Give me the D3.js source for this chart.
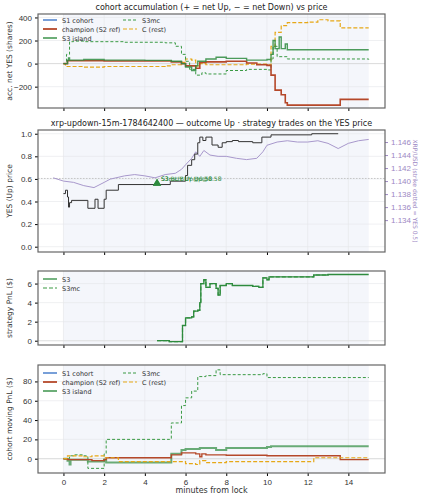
<!DOCTYPE html>
<html><head><meta charset="utf-8">
<script src="https://cdn.jsdelivr.net/npm/d3@7"></script>
<style>body{margin:0;background:#fff;font-family:'DejaVu Sans',sans-serif}</style>
</head><body><div id="chart"></div>
<script>
// panel 1: accumulated net YES shares [minute, shares]
const accS1 = []
const accChampion = [[0,0],[0.2,25],[2,22],[5.3,15],[5.8,0],[6,-20],[6.5,-40],[6.7,10],[7,15],[8,20],[9,5],[9.5,-10],[10,-15],[10.2,-100],[10.4,-230],[10.7,-270],[10.9,-340],[11,-360],[13.6,-360],[13.6,-310],[15,-310]]
const accS3 = [[0,0],[0.2,30],[0.25,50],[0.3,30],[1,35],[2,30],[4,28],[5.3,20],[5.8,0],[6,-30],[6.3,-60],[6.5,-20],[6.6,20],[7,40],[7.5,55],[8,45],[9,30],[10,35],[10.2,80],[10.3,200],[10.4,130],[10.6,230],[10.7,130],[10.9,170],[11,120],[15,120]]
const accS3mc = [[0,0],[0.15,80],[0.3,190],[0.5,195],[1,190],[3,185],[5,180],[5.5,150],[5.8,80],[6,20],[6.2,-50],[6.5,-100],[6.8,-80],[7,-90],[8,-60],[9,-50],[10,-55],[10.2,40],[10.3,150],[10.5,60],[11,40],[15,35]]
const accC = [[0,0],[0.1,-25],[1,-30],[2,-25],[5,-20],[5.3,-10],[5.8,10],[6,40],[6.3,30],[6.5,-20],[6.7,0],[7,-10],[8,-10],[9,-5],[10,-10],[10.2,150],[10.4,270],[10.7,330],[11,355],[12,360],[12.5,380],[13,370],[13.6,310],[15,310]]

// panel 2: YES price and XRP/USD
const yesPrice = [[0,0.47],[0.1,0.5],[0.2,0.44],[0.25,0.35],[0.3,0.39],[0.4,0.41],[1.2,0.34],[1.55,0.42],[1.7,0.34],[2.0,0.42],[2.1,0.5],[2.7,0.55],[5.25,0.58],[6.0,0.63],[6.1,0.72],[6.3,0.77],[6.45,0.82],[6.6,0.92],[6.7,0.97],[6.85,0.94],[7.0,0.97],[7.3,0.9],[7.6,0.88],[7.8,0.92],[8.0,0.93],[8.3,0.94],[8.6,0.93],[9.3,0.92],[9.75,0.97],[10.2,0.99],[12.2,1.0],[13.5,1.0]]
const xrpPrice = [[-0.5,1.1405],[0,1.14],[0.5,1.1398],[1,1.1393],[1.5,1.139],[2,1.1398],[2.3,1.1403],[3,1.1408],[3.5,1.141],[4,1.1408],[4.5,1.1405],[5,1.141],[5.5,1.1412],[5.8,1.1418],[6,1.1425],[6.3,1.1435],[6.5,1.1445],[6.7,1.1438],[6.9,1.1447],[7.2,1.144],[7.6,1.1438],[8,1.1438],[8.5,1.1435],[9,1.1433],[9.5,1.1435],[9.8,1.1445],[10,1.1455],[10.5,1.146],[11,1.1462],[11.5,1.146],[12,1.146],[12.5,1.1462],[13,1.1458],[13.5,1.145],[14,1.1458],[14.5,1.1462],[15,1.1464]]
const strike = 1.1404
const trades = [{x:4.6, y:0.56, label:'S3:BUY Up@0.58'}, {x:4.6, y:0.56, label:'S3mc:BUY Up@0.58'}]

// panel 3: strategy PnL
const pnlS3 = [[4.6,0],[5.2,-0.1],[5.85,1.6],[6.0,2.4],[6.3,2.5],[6.4,3.1],[6.6,3.2],[6.7,4.0],[6.75,6.0],[6.9,6.4],[7.0,5.6],[7.2,6.0],[7.5,5.5],[7.6,4.8],[7.7,5.8],[8,6.0],[8.3,5.8],[9,5.8],[9.3,5.7],[9.6,5.6],[9.8,6.6],[10,6.4],[10.1,6.7],[12.3,6.9],[13,6.95],[15,6.95]]
const pnlS3mc = pnlS3

// panel 4: cohort moving PnL
const movS1 = []
const movChampion = [[0,0],[0.2,-1],[1.2,-1],[1.4,-2],[2,-1],[2.1,1],[5.3,4],[5.8,6],[6.5,5],[6.7,2],[6.8,5],[7,4],[8,3.5],[10,3],[13.6,3],[13.6,-1],[15,-1]]
const movS3 = [[0,0],[0.2,-2],[0.3,-6],[0.35,-1],[1,-1],[1.2,-3],[2,-1],[2.1,-4],[5.3,5],[5.8,9],[6,10],[6.7,11],[7,11],[7.5,9],[8,11],[9,11],[10,12],[10.2,13],[15,13]]
const movS3mc = [[0,0],[0.3,3],[0.5,4],[1,3],[1.2,-10],[2,5],[2.1,20],[5.2,20],[5.3,37],[5.8,55],[6,63],[6.3,70],[6.6,85],[7,86],[7.5,92],[7.7,87],[9.8,88],[10,84],[15,84]]
const movC = [[0,0],[0.2,3],[1,2],[1.4,3],[2,1],[2.7,-3],[5.3,-3],[6,-5],[6.5,-6],[6.7,-2],[7,-4],[8,-3],[10,-3],[12.3,1],[15,1]]

const xTicks = [0,2,4,6,8,10,12,14]
const col = {s1:'#1f5fbf', champ:'#b5482a', s3:'#2e8b3e', s3mc:'#3a9a44', c:'#e6a817'}

const W = 423, H = 500
const left = 38, right = 385
const svg = d3.select('#chart').append('svg').attr('width', W).attr('height', H)
  .style('font-family', "'DejaVu Sans', sans-serif")

const xScale = d3.scaleLinear().domain([-1.25, 15.8]).range([left, right])

const line = (ys) => d3.line().curve(d3.curveStepAfter).x(d => xScale(d[0])).y(d => ys(d[1]))

// draw a panel frame with background, grid, axes
const panel = (top, bottom, domain, ticks, fmt, ylabel, showX) => {
  const ys = d3.scaleLinear().domain(domain).range([bottom, top])
  const g = svg.append('g')
  g.append('rect').attr('x', left).attr('y', top).attr('width', right - left).attr('height', bottom - top).attr('fill', '#fff')
  g.append('rect').attr('x', xScale(0)).attr('y', top).attr('width', xScale(15) - xScale(0)).attr('height', bottom - top).attr('fill', '#f4f6fb')
  xTicks.forEach(t => g.append('line').attr('x1', xScale(t)).attr('x2', xScale(t)).attr('y1', top).attr('y2', bottom).attr('stroke', '#e4e6ea').attr('stroke-width', 0.6))
  ticks.forEach(t => g.append('line').attr('x1', left).attr('x2', right).attr('y1', ys(t)).attr('y2', ys(t)).attr('stroke', '#e4e6ea').attr('stroke-width', 0.6))
  const ya = g.append('g').attr('transform', `translate(${left},0)`).call(d3.axisLeft(ys).tickValues(ticks).tickFormat(fmt).tickSize(3))
  ya.select('.domain').remove()
  ya.selectAll('text').attr('font-size', 8).attr('fill', '#333')
  const xa = g.append('g').attr('transform', `translate(0,${bottom})`).call(d3.axisBottom(xScale).tickValues(xTicks).tickSize(3).tickFormat(showX ? d3.format('d') : ''))
  xa.select('.domain').remove()
  xa.selectAll('text').attr('font-size', 8).attr('fill', '#333')
  g.append('text').attr('transform', `translate(${left - 26},${(top + bottom) / 2}) rotate(-90)`)
    .attr('text-anchor', 'middle').attr('font-size', 7.5).attr('fill', '#333').text(ylabel)
  return {ys, g, top, bottom}
}
const frame = (p) => svg.append('rect').attr('x', left).attr('y', p.top).attr('width', right - left).attr('height', p.bottom - p.top)
  .attr('fill', 'none').attr('stroke', '#666').attr('stroke-width', 1.2)
const title = (y, t) => svg.append('text').attr('x', (left + right) / 2).attr('y', y).attr('text-anchor', 'middle').attr('font-size', 8).attr('fill', '#222').text(t)

const drawSeries = (p, data, color, width, dash, opacity) => {
  if (!data.length) return
  p.g.append('path').datum(data).attr('d', line(p.ys)).attr('fill', 'none').attr('stroke', color)
    .attr('stroke-width', width).attr('stroke-dasharray', dash || null).attr('opacity', opacity || 1)
}
const legend = (p, items, x0, y0, colW) => {
  items.forEach((it, i) => {
    const x = x0 + Math.floor(i / 3) * colW, y = y0 + (i % 3) * 9
    p.g.append('line').attr('x1', x).attr('x2', x + 14).attr('y1', y).attr('y2', y).attr('stroke', it.c).attr('stroke-width', it.w).attr('stroke-dasharray', it.d || null)
    p.g.append('text').attr('x', x + 19).attr('y', y + 2.5).attr('font-size', 6.5).attr('fill', '#333').text(it.t)
  })
}
const cohortItems = [
  {t:'S1 cohort', c:col.s1, w:1.2}, {t:'champion (S2 ref)', c:col.champ, w:1.8}, {t:'S3 island', c:col.s3, w:1.4},
  {t:'S3mc', c:col.s3mc, w:1, d:'3,2'}, {t:'C (rest)', c:col.c, w:1.2, d:'4,2'}
]

// panel 1
title(10, 'cohort accumulation (+ = net Up, \u2212 = net Down) vs price')
const p1 = panel(14, 108, [-385, 430], [-200, 0, 200, 400], d3.format('d'), 'acc. net YES (shares)', false)
p1.g.append('line').attr('x1', left).attr('x2', right).attr('y1', p1.ys(0)).attr('y2', p1.ys(0)).attr('stroke', '#ccc').attr('stroke-width', 0.6)
drawSeries(p1, accC, col.c, 1.2, '4,2')
drawSeries(p1, accS3mc, col.s3mc, 1, '3,2')
drawSeries(p1, accChampion, col.champ, 1.6)
drawSeries(p1, accS3, col.s3, 1.4, null, 0.85)
drawSeries(p1, accS1, col.s1, 1.2)
legend(p1, cohortItems, left + 5, 20, 80)
frame(p1)

// panel 2
title(126, 'xrp-updown-15m-1784642400 \u2014 outcome Up \u00b7 strategy trades on the YES price')
const p2 = panel(130, 252, [-0.047, 1.033], [0, 0.2, 0.4, 0.6, 0.8, 1.0], d3.format('.1f'), 'YES (Up) price', false)
const yr = d3.scaleLinear().domain([1.1291, 1.14785]).range([252, 130])
p2.g.append('line').attr('x1', left).attr('x2', right).attr('y1', yr(strike)).attr('y2', yr(strike)).attr('stroke', '#bbb').attr('stroke-width', 0.8).attr('stroke-dasharray', '1.5,1.5')
p2.g.append('path').datum(xrpPrice).attr('d', d3.line().x(d => xScale(d[0])).y(d => yr(d[1]))).attr('fill', 'none').attr('stroke', '#a898cc').attr('stroke-width', 1)
drawSeries(p2, yesPrice, '#333', 1)
trades.forEach((t, i) => {
  p2.g.append('path').attr('d', d3.symbol(d3.symbolTriangle, 30)()).attr('transform', `translate(${xScale(t.x)},${p2.ys(t.y)})`).attr('fill', col.s3)
  p2.g.append('text').attr('x', xScale(t.x) + 4).attr('y', p2.ys(t.y) - 2 - i * 0.5).attr('font-size', 6).attr('fill', col.s3).text(t.label)
})
const ra = svg.append('g').attr('transform', `translate(${right},0)`).call(d3.axisRight(yr).tickValues([1.134, 1.136, 1.138, 1.14, 1.142, 1.144, 1.146]).tickFormat(d3.format('.3f')).tickSize(3))
ra.select('.domain').remove()
ra.selectAll('text').attr('font-size', 8).attr('fill', '#9d88c4')
ra.selectAll('line').attr('stroke', '#9d88c4')
svg.append('text').attr('transform', `translate(${right + 28},191) rotate(90)`).attr('text-anchor', 'middle').attr('font-size', 6).attr('fill', '#9d88c4').text('XRP/USD (strike dotted = YES 0.5)')
frame(p2)

// panel 3
const p3 = panel(271, 345, [-0.45, 7.32], [0, 2, 4, 6], d3.format('d'), 'strategy PnL ($)', false)
p3.g.append('line').attr('x1', left).attr('x2', right).attr('y1', p3.ys(0)).attr('y2', p3.ys(0)).attr('stroke', '#ddd').attr('stroke-width', 0.8)
drawSeries(p3, pnlS3mc, col.s3mc, 1.2, '4,2')
drawSeries(p3, pnlS3, col.s3, 1.3)
legend(p3, [{t:'S3', c:col.s3, w:1.3}, {t:'S3mc', c:col.s3mc, w:1.2, d:'4,2'}], left + 5, 279, 80)
frame(p3)

// panel 4
const p4 = panel(365, 473, [-14.8, 97], [0, 20, 40, 60, 80], d3.format('d'), 'cohort moving PnL ($)', true)
p4.g.append('line').attr('x1', left).attr('x2', right).attr('y1', p4.ys(0)).attr('y2', p4.ys(0)).attr('stroke', '#ccc').attr('stroke-width', 0.6)
drawSeries(p4, movS3mc, col.s3mc, 1, '3,2')
drawSeries(p4, movS3, col.s3, 2, null, 0.7)
drawSeries(p4, movChampion, col.champ, 1.4)
drawSeries(p4, movC, col.c, 1.2, '4,2')
drawSeries(p4, movS1, col.s1, 1.2)
legend(p4, cohortItems, left + 5, 373, 80)
frame(p4)
svg.append('text').attr('x', (left + right) / 2).attr('y', 493).attr('text-anchor', 'middle').attr('font-size', 8).attr('fill', '#333').text('minutes from lock')
</script>
</body></html>
